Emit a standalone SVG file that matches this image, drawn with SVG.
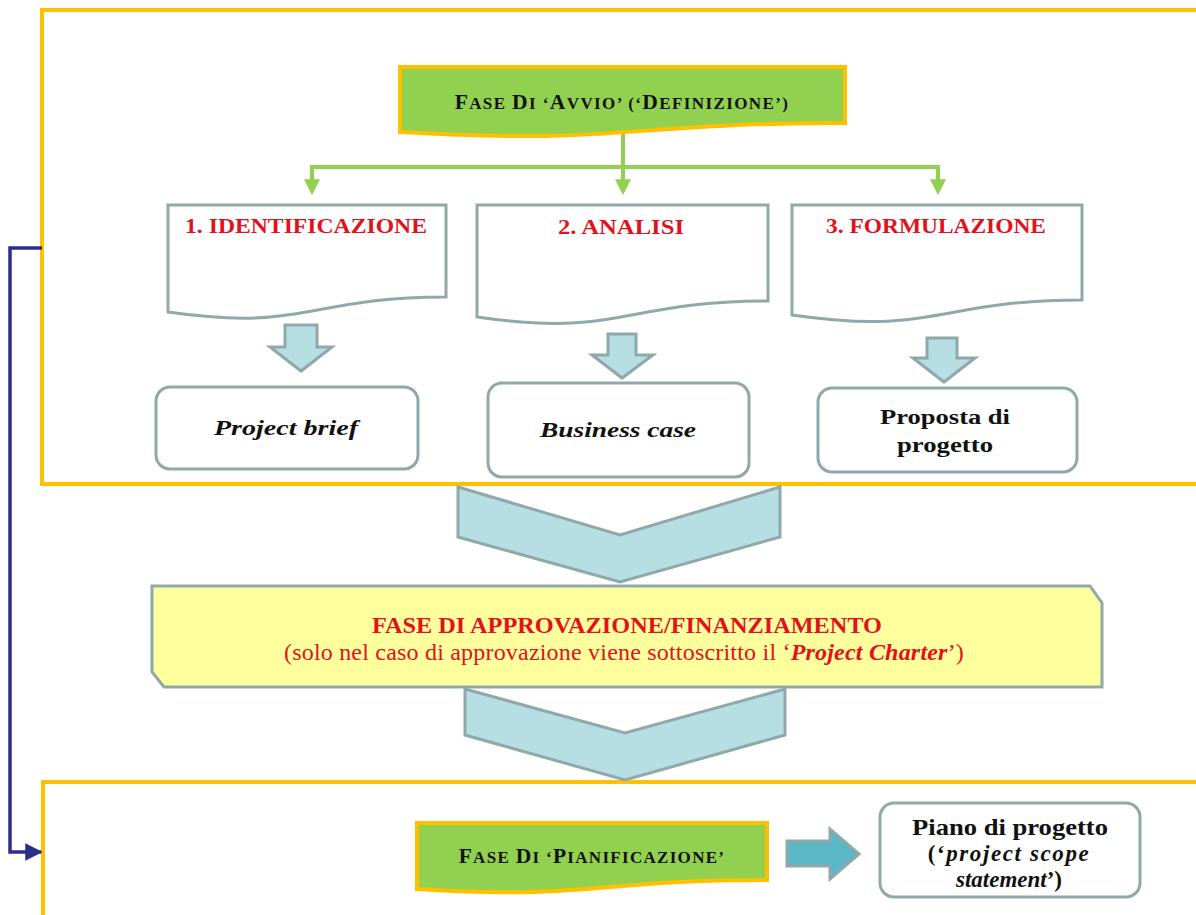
<svg xmlns="http://www.w3.org/2000/svg" width="1196" height="915" viewBox="0 0 1196 915">
<style>
.frame{fill:none;stroke:#FFC000;stroke-width:4}
.doc{fill:#fff;stroke:#8FA9AA;stroke-width:3}
.out{fill:#fff;stroke:#8FA9AA;stroke-width:3}
.green{fill:#92D050;stroke:#FFC000;stroke-width:4}
.blk{fill:#B7DEE2;stroke:#8FA9AA;stroke-width:3}
.gl{fill:none;stroke:#92D050;stroke-width:4}
text{font-family:"Liberation Serif","Times New Roman",serif;text-anchor:middle}
.b{font-weight:bold}
.i{font-style:italic}
.n{font-weight:normal}
.red{fill:#E3111B}
.blackt{fill:#111}
</style>
<defs>
<marker id="ga" markerWidth="4" markerHeight="4" refX="2.2" refY="2" orient="auto" markerUnits="strokeWidth">
<path d="M0,0 L4,2 L0,4 Z" fill="#92D050"/>
</marker>
<marker id="ba" markerWidth="5" markerHeight="5" refX="4.5" refY="2.5" orient="auto" markerUnits="strokeWidth">
<path d="M0,0 L5,2.5 L0,5 Z" fill="#2B2F87"/>
</marker>
</defs>
<rect width="1196" height="915" fill="#fff"/>

<g id="frames">
<path class="frame" d="M1196,10 H42 V484 H1196"/>
<path class="frame" d="M1196,782 H43 V915"/>
</g>

<g id="connectors">
<path d="M42,248 H10 V852 H41" fill="none" stroke="#2B2F87" stroke-width="3.5" marker-end="url(#ba)"/>
<path class="gl" d="M623,131 V188" marker-end="url(#ga)"/>
<path class="gl" d="M312,167 H938"/>
<path class="gl" d="M312,165 V188" marker-end="url(#ga)"/>
<path class="gl" d="M938,165 V188" marker-end="url(#ga)"/>
<polygon class="blk" points="285,325 317,325 317,347 332,347 301,371 270,347 285,347"/>
<polygon class="blk" points="608,334 636,334 636,355 653,355 622,378 592,355 608,355"/>
<polygon class="blk" points="927,338 957,338 957,358 975,358 944,382 913,358 927,358"/>
<polygon class="blk" points="458,487 620,535 780,487 780,537 620,582 458,537"/>
<polygon class="blk" points="465,689 625,733 785,689 785,735 625,780 465,735"/>
<polygon points="787,841 830,841 830,829 859,854 830,879 830,866 787,866" fill="#5AB7C6" stroke="#8FA9AA" stroke-width="3"/>
</g>

<g id="avvio">
<path class="green" d="M400,67 H845 V123 C622,123 622,145 400,132 Z"/>
<text class="b blackt" x="622" y="109" font-size="17" letter-spacing="1.4"><tspan font-size="21.5">F</tspan>ASE <tspan font-size="21.5">D</tspan>I ‘<tspan font-size="21.5">A</tspan>VVIO’ (‘<tspan font-size="21.5">D</tspan>EFINIZIONE’)</text>
</g>

<g id="identificazione">
<path class="doc" d="M168,205 H446 V297 C307,297 307,332 168,312 Z"/>
<text class="b red" x="306" y="233" font-size="20" textLength="242" lengthAdjust="spacingAndGlyphs">1. IDENTIFICAZIONE</text>
</g>
<g id="analisi">
<path class="doc" d="M477,205 H768 V301 C622,301 622,338 477,317 Z"/>
<text class="b red" x="621" y="234" font-size="20" textLength="126" lengthAdjust="spacingAndGlyphs">2. ANALISI</text>
</g>
<g id="formulazione">
<path class="doc" d="M792,205 H1082 V300 C937,300 937,336 792,315 Z"/>
<text class="b red" x="936" y="233" font-size="20" textLength="220" lengthAdjust="spacingAndGlyphs">3. FORMULAZIONE</text>
</g>

<g id="brief">
<rect class="out" x="156" y="387" width="262" height="82" rx="14"/>
<text class="b i blackt" x="286" y="435" font-size="21" textLength="144" lengthAdjust="spacingAndGlyphs">Project brief</text>
</g>
<g id="business">
<rect class="out" x="488" y="383" width="261" height="94" rx="14"/>
<text class="b i blackt" x="618" y="437" font-size="21" textLength="156" lengthAdjust="spacingAndGlyphs">Business case</text>
</g>
<g id="proposta">
<rect class="out" x="818" y="388" width="259" height="84" rx="14"/>
<text class="b blackt" x="945" y="424" font-size="20" textLength="130" lengthAdjust="spacingAndGlyphs">Proposta di</text>
<text class="b blackt" x="945" y="452" font-size="20" textLength="96" lengthAdjust="spacingAndGlyphs">progetto</text>
</g>

<g id="approvazione">
<polygon points="152,586 1090,586 1102,603 1102,687 164,687 152,672" fill="#FFFF9E" stroke="#8FA9AA" stroke-width="3"/>
<text class="b red" x="627" y="633" font-size="24" textLength="510" lengthAdjust="spacingAndGlyphs">FASE DI APPROVAZIONE/FINANZIAMENTO</text>
<text class="n red" x="624" y="660" font-size="24" letter-spacing="0.2">(solo nel caso di approvazione viene sottoscritto il ‘<tspan class="b i">Project Charter</tspan>’)</text>
</g>

<g id="pianificazione">
<path class="green" d="M417,823 H767 V880 C592,880 592,900 417,889 Z"/>
<text class="b blackt" x="592" y="863" font-size="17" letter-spacing="1.3"><tspan font-size="21.5">F</tspan>ASE <tspan font-size="21.5">D</tspan>I ‘<tspan font-size="21.5">P</tspan>IANIFICAZIONE’</text>
</g>

<g id="piano">
<rect class="out" x="880" y="803" width="260" height="94" rx="14"/>
<text class="b blackt" x="1010" y="835" font-size="23" textLength="196" lengthAdjust="spacingAndGlyphs">Piano di progetto</text>
<text class="b blackt" x="1009" y="861" font-size="23" letter-spacing="1.6">(‘<tspan class="i">project scope</tspan></text>
<text class="b blackt" x="1009" y="887" font-size="23"><tspan class="i">statement</tspan>’)</text>
</g>
</svg>
